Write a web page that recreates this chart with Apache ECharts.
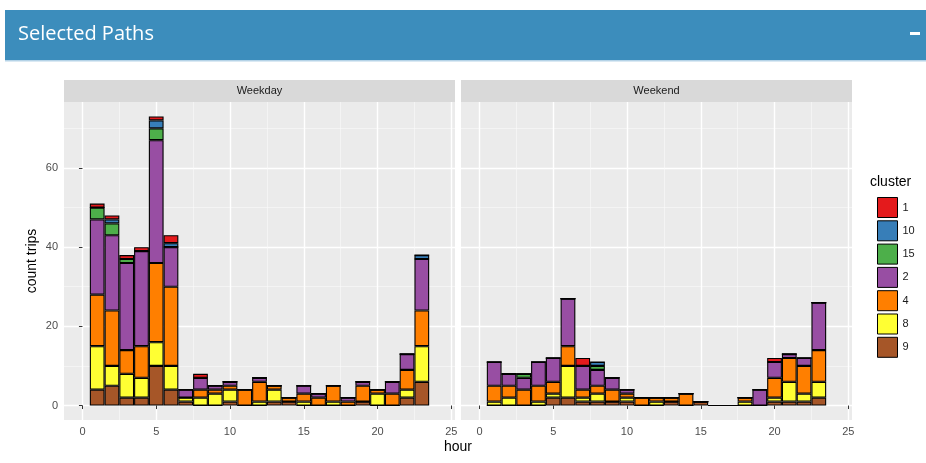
<!DOCTYPE html>
<html>
<head>
<meta charset="utf-8">
<script src="https://cdn.jsdelivr.net/npm/echarts@6/dist/echarts.min.js"></script>
<style>
  html, body { margin: 0; padding: 0; background: #ffffff; }
  #chart { width: 926px; height: 463px; }
</style>
</head>
<body>
<div id="chart"></div>
<script>
// Hour of day for each histogram bin (bin width 1, centred on the hour)
const hours = [1, 2, 3, 4, 5, 6, 7, 8, 9, 10, 11, 12, 13, 14, 15, 16, 17, 18, 19, 20, 21, 22, 23];

// Cluster levels in legend order, and their fills
const clusters = ['1', '10', '15', '2', '4', '8', '9'];
const clusterColors = ['#E41A1C', '#377EB8', '#4DAF4A', '#984EA3', '#FF7F00', '#FFFF33', '#A65628'];

// Facet panels
const panels = ['Weekday', 'Weekend'];

// Axis breaks
const xBreaks = [0, 5, 10, 15, 20, 25];
const xMinorBreaks = [2.5, 7.5, 12.5, 17.5, 22.5];
const yBreaks = [0, 20, 40, 60];
const yMinorBreaks = [10, 30, 50, 70];

// Trip counts per hour, weekday
const weekday1  = [1, 1, 1, 1, 1, 2, 0, 1, 0, 0, 0, 0, 0, 0, 0, 0, 0, 0, 0, 0, 0, 0, 0];
const weekday10 = [0, 1, 0, 0, 2, 1, 0, 0, 0, 0, 0, 0, 0, 0, 0, 0, 0, 0, 0, 0, 0, 0, 1];
const weekday15 = [3, 3, 1, 0, 3, 0, 0, 0, 0, 0, 0, 0, 0, 0, 0, 0, 0, 0, 0, 0, 0, 0, 0];
const weekday2  = [19, 19, 22, 24, 31, 10, 2, 3, 1, 1, 0, 1, 0, 0, 2, 1, 0, 1, 1, 0, 3, 4, 13];
const weekday4  = [13, 14, 6, 8, 20, 20, 0, 2, 1, 1, 4, 5, 1, 1, 2, 2, 4, 1, 4, 1, 3, 5, 9];
const weekday8  = [11, 5, 6, 5, 6, 6, 1, 2, 3, 3, 0, 1, 3, 0, 1, 0, 1, 0, 0, 3, 0, 2, 9];
const weekday9  = [4, 5, 2, 2, 10, 4, 1, 0, 0, 1, 0, 0, 1, 1, 0, 0, 0, 0, 1, 0, 0, 2, 6];

// Trip counts per hour, weekend
const weekend1  = [0, 0, 0, 0, 0, 0, 2, 0, 0, 0, 0, 0, 0, 0, 0, 0, 0, 0, 0, 1, 0, 0, 0];
const weekend10 = [0, 0, 0, 0, 0, 0, 0, 1, 0, 0, 0, 0, 0, 0, 0, 0, 0, 0, 0, 0, 0, 0, 0];
const weekend15 = [0, 0, 1, 0, 0, 0, 0, 1, 0, 0, 0, 0, 0, 0, 0, 0, 0, 0, 0, 0, 0, 0, 0];
const weekend2  = [6, 3, 3, 6, 6, 12, 6, 4, 3, 1, 0, 0, 0, 0, 0, 0, 0, 0, 4, 4, 1, 2, 12];
const weekend4  = [4, 3, 4, 4, 3, 5, 2, 2, 3, 1, 2, 1, 1, 3, 0, 0, 0, 1, 0, 5, 6, 7, 8];
const weekend8  = [1, 2, 0, 1, 1, 8, 1, 2, 0, 1, 0, 1, 0, 0, 0, 0, 0, 1, 0, 1, 5, 2, 4];
const weekend9  = [0, 0, 0, 0, 2, 2, 1, 1, 1, 1, 0, 0, 1, 0, 1, 0, 0, 0, 0, 1, 1, 1, 2];

const panelCounts = [
  [weekday1, weekday10, weekday15, weekday2, weekday4, weekday8, weekday9],
  [weekend1, weekend10, weekend15, weekend2, weekend4, weekend8, weekend9]
];

// Panel geometry
const FONT = '"Liberation Sans", Arial, sans-serif';
const panelTop = 102, panelHeight = 318, panelWidth = 391;
const panelLefts = [64, 461];
const xMin = -1.25, xMax = 25.25;
const yMin = -3.65, yMax = 76.65;
const barPx = panelWidth / (xMax - xMin);

const grids = panelLefts.map(l => ({
  left: l, top: panelTop, width: panelWidth, height: panelHeight,
  show: true, backgroundColor: '#EBEBEB', borderWidth: 0, containLabel: false
}));

function majorX(gi) {
  return {
    type: 'value', gridIndex: gi, min: xMin, max: xMax, position: 'bottom',
    axisLine: { show: false },
    axisTick: { show: true, length: 3.5, customValues: xBreaks, lineStyle: { color: '#333333', width: 1 } },
    axisLabel: { show: true, customValues: xBreaks, margin: 6, color: '#4D4D4D', fontSize: 11, fontFamily: FONT },
    splitLine: { show: true, lineStyle: { color: '#FFFFFF', width: 1.4 } }
  };
}
function minorX(gi) {
  return {
    type: 'value', gridIndex: gi, min: xMin, max: xMax, position: 'bottom',
    axisLine: { show: false },
    axisTick: { show: false, customValues: xMinorBreaks },
    axisLabel: { show: false },
    splitLine: { show: true, lineStyle: { color: '#FAFAFA', width: 0.6 } }
  };
}
function majorY(gi, labels) {
  return {
    type: 'value', gridIndex: gi, min: yMin, max: yMax, position: 'left',
    axisLine: { show: false },
    axisTick: { show: labels, length: 3.5, customValues: yBreaks, lineStyle: { color: '#333333', width: 1 } },
    axisLabel: { show: labels, customValues: yBreaks, margin: 6, color: '#4D4D4D', fontSize: 11, fontFamily: FONT },
    splitLine: { show: true, lineStyle: { color: '#FFFFFF', width: 1.4 } }
  };
}
function minorY(gi) {
  return {
    type: 'value', gridIndex: gi, min: yMin, max: yMax, position: 'left',
    axisLine: { show: false },
    axisTick: { show: false, customValues: yMinorBreaks },
    axisLabel: { show: false },
    splitLine: { show: true, lineStyle: { color: '#FAFAFA', width: 0.6 } }
  };
}

// Stacked histogram bars: first series sits at the bottom, so go from cluster "9" up to "1".
// Each datum is [count, hour]; the count comes first so it is the dimension that gets stacked.
const series = [];
panelCounts.forEach((counts, p) => {
  for (let k = clusters.length - 1; k >= 0; k--) {
    series.push({
      type: 'bar',
      name: clusters[k],
      xAxisIndex: p,
      yAxisIndex: p,
      stack: 'panel' + p,
      barWidth: barPx,
      encode: { x: 1, y: 0 },
      data: hours.map((h, i) => [counts[k][i], h]),
      itemStyle: { color: clusterColors[k], borderColor: '#000000', borderWidth: 1.1 },
      emphasis: { disabled: true },
      silent: true
    });
  }
});

// Facet strips
const strips = [];
panels.forEach((name, p) => {
  strips.push({
    type: 'rect', shape: { x: panelLefts[p], y: 80, width: panelWidth, height: 22 },
    style: { fill: '#D9D9D9' }, silent: true
  });
  strips.push({
    type: 'text', x: panelLefts[p] + panelWidth / 2, y: 91,
    style: { text: name, fill: '#1A1A1A', fontSize: 11, fontFamily: FONT, textAlign: 'center', textVerticalAlign: 'middle' },
    silent: true
  });
});

const option = {
  animation: false,
  backgroundColor: '#FFFFFF',
  textStyle: { fontFamily: FONT },
  grid: grids,
  xAxis: [majorX(0), majorX(1), minorX(0), minorX(1)],
  yAxis: [majorY(0, true), majorY(1, false), minorY(0), minorY(1)],
  legend: {
    data: clusters,
    orient: 'vertical',
    left: 872, top: 192,
    itemWidth: 20, itemHeight: 20, itemGap: 2.3,
    icon: 'rect',
    selectedMode: false,
    itemStyle: { borderColor: '#000000', borderWidth: 1 },
    textStyle: { color: '#1A1A1A', fontSize: 11, fontFamily: FONT }
  },
  series: series,
  graphic: [
    // box header
    { type: 'rect', shape: { x: 5, y: 10, width: 921, height: 50 }, style: { fill: '#3C8DBC' }, silent: true },
    { type: 'rect', shape: { x: 5, y: 60, width: 921, height: 1.5 }, style: { fill: '#B5D3E7' }, silent: true },
    { type: 'text', x: 18, y: 34,
      style: { text: 'Selected Paths', fill: '#FFFFFF', fontSize: 20, fontFamily: '"Open Sans", sans-serif', textVerticalAlign: 'middle' },
      silent: true },
    { type: 'rect', shape: { x: 910, y: 32, width: 10, height: 3 }, style: { fill: '#FFFFFF' }, silent: true },
    ...strips,
    // axis titles
    { type: 'text', x: 32, y: panelTop + panelHeight / 2, rotation: Math.PI / 2,
      style: { text: 'count trips', fill: '#000000', fontSize: 14, fontFamily: FONT, textAlign: 'center', textVerticalAlign: 'middle' },
      silent: true },
    { type: 'text', x: 458, y: 447,
      style: { text: 'hour', fill: '#000000', fontSize: 14, fontFamily: FONT, textAlign: 'center', textVerticalAlign: 'middle' },
      silent: true },
    // legend title
    { type: 'text', x: 870, y: 182,
      style: { text: 'cluster', fill: '#000000', fontSize: 14, fontFamily: FONT, textVerticalAlign: 'middle' },
      silent: true }
  ]
};

const chart = echarts.init(document.getElementById('chart'), null, { renderer: 'canvas' });
chart.setOption(option);
</script>
</body>
</html>
